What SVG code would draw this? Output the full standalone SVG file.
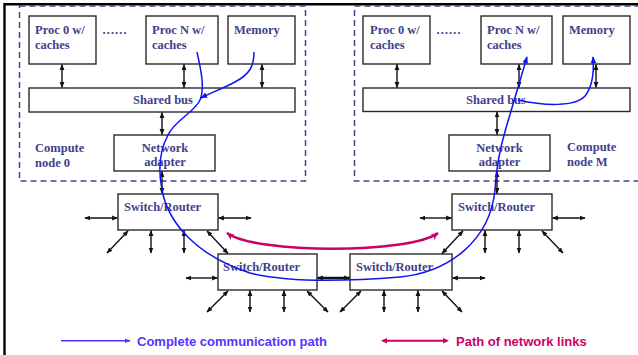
<svg xmlns="http://www.w3.org/2000/svg" width="638" height="355" viewBox="0 0 638 355">
  <defs>
    <style>
      .box { fill: #ffffff; stroke: #2a2a2a; stroke-width: 1.4; }
      .lbl { font-family: "Liberation Serif", "Times New Roman", serif; font-weight: bold; font-size: 12.5px; fill: #3f3f8c; }
      .mid { text-anchor: middle; }
      .dash { fill: none; stroke: #46468c; stroke-width: 1.5; stroke-dasharray: 6 4; }
      .link { stroke: #111111; stroke-width: 1.4; fill: none; marker-start: url(#ah); marker-end: url(#ah); }
      .thick { stroke-width: 2.4; }
      .comm { fill: none; stroke: #1414f0; stroke-width: 1.5; }
      .net { fill: none; stroke: #cc0066; stroke-width: 2.6; marker-start: url(#mh); marker-end: url(#mh); }
      .legend { font-family: "Liberation Sans", Arial, sans-serif; font-weight: bold; font-size: 13px; }
    </style>
    <marker id="ah" viewBox="0 0 10 10" refX="9" refY="5" markerWidth="6" markerHeight="6" markerUnits="userSpaceOnUse" orient="auto-start-reverse">
      <path d="M0,1 L10,5 L0,9 z" fill="#111111"/>
    </marker>
    <marker id="bh" viewBox="0 0 10 10" refX="9" refY="5" markerWidth="7" markerHeight="7" markerUnits="userSpaceOnUse" orient="auto">
      <path d="M0,1 L10,5 L0,9 z" fill="#1414f0"/>
    </marker>
    <marker id="lh" viewBox="0 0 10 10" refX="9" refY="5" markerWidth="6" markerHeight="6" markerUnits="userSpaceOnUse" orient="auto">
      <path d="M0,1 L10,5 L0,9 z" fill="#5533ff"/>
    </marker>
    <marker id="mh" viewBox="0 0 10 10" refX="9" refY="5" markerWidth="9" markerHeight="8" markerUnits="userSpaceOnUse" orient="auto-start-reverse">
      <path d="M0,1 L10,5 L0,9 L2.5,5 z" fill="#cc0066"/>
    </marker>
  </defs>

  <rect width="638" height="355" fill="#ffffff"/>
  <!-- frame edges -->
  <path d="M4.5,355 V4.3 H638" fill="none" stroke="#000000" stroke-width="2.4"/>

  <!-- compute node 0 -->
  <g id="node0">
    <rect class="dash" x="19.5" y="6" width="286" height="175"/>
    <text class="lbl" x="35" y="151.5">Compute</text>
    <text class="lbl" x="35" y="166.5">node 0</text>
  </g>
  <g id="n0-proc0">
    <rect class="box" x="29" y="16" width="67" height="48"/>
    <text class="lbl" x="35" y="33.5">Proc 0 w/</text>
    <text class="lbl" x="35" y="48.5">caches</text>
  </g>
  <text class="lbl" x="102" y="33.5">……</text>
  <g id="n0-procN">
    <rect class="box" x="146" y="16" width="72" height="48"/>
    <text class="lbl" x="152" y="33.5">Proc N w/</text>
    <text class="lbl" x="152" y="48.5">caches</text>
  </g>
  <g id="n0-memory">
    <rect class="box" x="228" y="16" width="67" height="48"/>
    <text class="lbl" x="234" y="33.5">Memory</text>
  </g>
  <g id="n0-bus">
    <rect class="box" x="29" y="88" width="266" height="24"/>
    <text class="lbl mid" x="163" y="103.5">Shared bus</text>
  </g>
  <g id="n0-adapter">
    <rect class="box" x="114" y="135" width="101" height="36"/>
    <text class="lbl mid" x="165" y="151.5">Network</text>
    <text class="lbl mid" x="165" y="166">adapter</text>
  </g>

  <!-- compute node M -->
  <g id="nodeM">
    <rect class="dash" x="354.5" y="6" width="300" height="175"/>
    <text class="lbl" x="567" y="151">Compute</text>
    <text class="lbl" x="567" y="166">node M</text>
  </g>
  <g id="nM-proc0">
    <rect class="box" x="363" y="16" width="67" height="48"/>
    <text class="lbl" x="370" y="33.5">Proc 0 w/</text>
    <text class="lbl" x="370" y="48.5">caches</text>
  </g>
  <text class="lbl" x="436" y="33.5">……</text>
  <g id="nM-procN">
    <rect class="box" x="481" y="16" width="71" height="48"/>
    <text class="lbl" x="487" y="33.5">Proc N w/</text>
    <text class="lbl" x="487" y="48.5">caches</text>
  </g>
  <g id="nM-memory">
    <rect class="box" x="563" y="16" width="67" height="48"/>
    <text class="lbl" x="569" y="33.5">Memory</text>
  </g>
  <g id="nM-bus">
    <rect class="box" x="363" y="88" width="267" height="23.5"/>
    <text class="lbl mid" x="496" y="103.5">Shared bus</text>
  </g>
  <g id="nM-adapter">
    <rect class="box" x="449" y="135" width="101" height="36"/>
    <text class="lbl mid" x="499.5" y="151.5">Network</text>
    <text class="lbl mid" x="499.5" y="166">adapter</text>
  </g>

  <!-- switches -->
  <g id="switch-a">
    <rect class="box" x="118" y="194" width="100" height="36"/>
    <text class="lbl" x="124" y="211">Switch/Router</text>
  </g>
  <g id="switch-b">
    <rect class="box" x="218" y="254" width="99" height="36"/>
    <text class="lbl" x="223" y="270.5">Switch/Router</text>
  </g>
  <g id="switch-c">
    <rect class="box" x="350" y="254" width="102" height="36"/>
    <text class="lbl" x="356" y="270.5">Switch/Router</text>
  </g>
  <g id="switch-d">
    <rect class="box" x="452" y="194" width="100" height="36"/>
    <text class="lbl" x="458" y="211">Switch/Router</text>
  </g>

  <!-- links -->
  <g id="connectors">
    <!-- node 0 internal -->
    <line class="link" x1="62" y1="64.5" x2="62" y2="87.5"/>
    <line class="link" x1="184" y1="64.5" x2="184" y2="87.5"/>
    <line class="link" x1="262" y1="64.5" x2="262" y2="87.5"/>
    <line class="link" x1="162" y1="112.5" x2="162" y2="134.5"/>
    <line class="link" x1="162" y1="171.5" x2="162" y2="193.5"/>
    <!-- node M internal -->
    <line class="link" x1="397" y1="64.5" x2="397" y2="87.5"/>
    <line class="link" x1="519" y1="64.5" x2="519" y2="87.5"/>
    <line class="link" x1="596" y1="64.5" x2="596" y2="87.5"/>
    <line class="link" x1="497" y1="112" x2="497" y2="134.5"/>
    <line class="link" x1="497" y1="171.5" x2="497" y2="193.5"/>

    <!-- switch a -->
    <line class="link" x1="85" y1="218" x2="117.5" y2="218"/>
    <line class="link" x1="218.5" y1="218" x2="251" y2="218"/>
    <line class="link" x1="128" y1="231" x2="107" y2="253"/>
    <line class="link" x1="151" y1="230.5" x2="151" y2="253"/>
    <line class="link" x1="184" y1="230.5" x2="184" y2="253"/>
    <line class="link" x1="207" y1="231" x2="228" y2="253.5"/>
    <!-- switch d -->
    <line class="link" x1="420" y1="218" x2="451.5" y2="218"/>
    <line class="link" x1="552.5" y1="218" x2="585" y2="218"/>
    <line class="link" x1="463" y1="231" x2="442" y2="253.5"/>
    <line class="link" x1="485" y1="230.5" x2="485" y2="253"/>
    <line class="link" x1="519" y1="230.5" x2="519" y2="253"/>
    <line class="link" x1="542" y1="231" x2="563" y2="253"/>
    <!-- switch b -->
    <line class="link" x1="186" y1="278" x2="217.5" y2="278"/>
    <line class="link thick" x1="317.5" y1="278" x2="349.5" y2="278"/>
    <line class="link" x1="228" y1="291" x2="207" y2="312"/>
    <line class="link" x1="250" y1="290.5" x2="250" y2="312"/>
    <line class="link" x1="284" y1="290.5" x2="284" y2="312"/>
    <line class="link" x1="307" y1="291" x2="328" y2="312"/>
    <!-- switch c -->
    <line class="link" x1="452.5" y1="278" x2="485" y2="278"/>
    <line class="link" x1="361" y1="291" x2="340" y2="312"/>
    <line class="link" x1="384" y1="290.5" x2="384" y2="312"/>
    <line class="link" x1="418" y1="290.5" x2="418" y2="312"/>
    <line class="link" x1="442" y1="291" x2="462" y2="312"/>

    <!-- network link path -->
    <path class="net" d="M227,233 C255,254 410,254 438,233"/>

    <!-- communication path -->
    <path class="comm" d="M197,52 C201,70 205,88 200,100 C195,112 175,120 168,135 C160,150 158,170 162,190 C168,222 195,255 250,273 C290,283 350,281 400,277 C450,272 490,240 495,190 C496,170 500,148 506,128 L527,57" marker-end="url(#bh)"/>
    <path class="comm" d="M254,52 C254,66 250,74 235,82 C222,89 210,93 201,98" marker-end="url(#bh)"/>
    <path class="comm" d="M518,100 C545,106 575,107 585,96 C593,86 594,70 593,57" marker-end="url(#bh)"/>
  </g>

  <!-- legend -->
  <g id="legend">
    <line x1="61" y1="340.7" x2="130" y2="340.7" stroke="#5533ff" stroke-width="1.5" marker-end="url(#lh)"/>
    <text class="legend" x="137" y="345.5" fill="#5533ff">Complete communication path</text>
    <line x1="383" y1="340.7" x2="447" y2="340.7" stroke="#cc0066" stroke-width="2"/>
    <path d="M381,340.7 L387,338 L387,343.4 z M449,340.7 L443,338 L443,343.4 z" fill="#cc0066"/>
    <text class="legend" x="456" y="345.5" fill="#cc0066">Path of network links</text>
  </g>
</svg>
